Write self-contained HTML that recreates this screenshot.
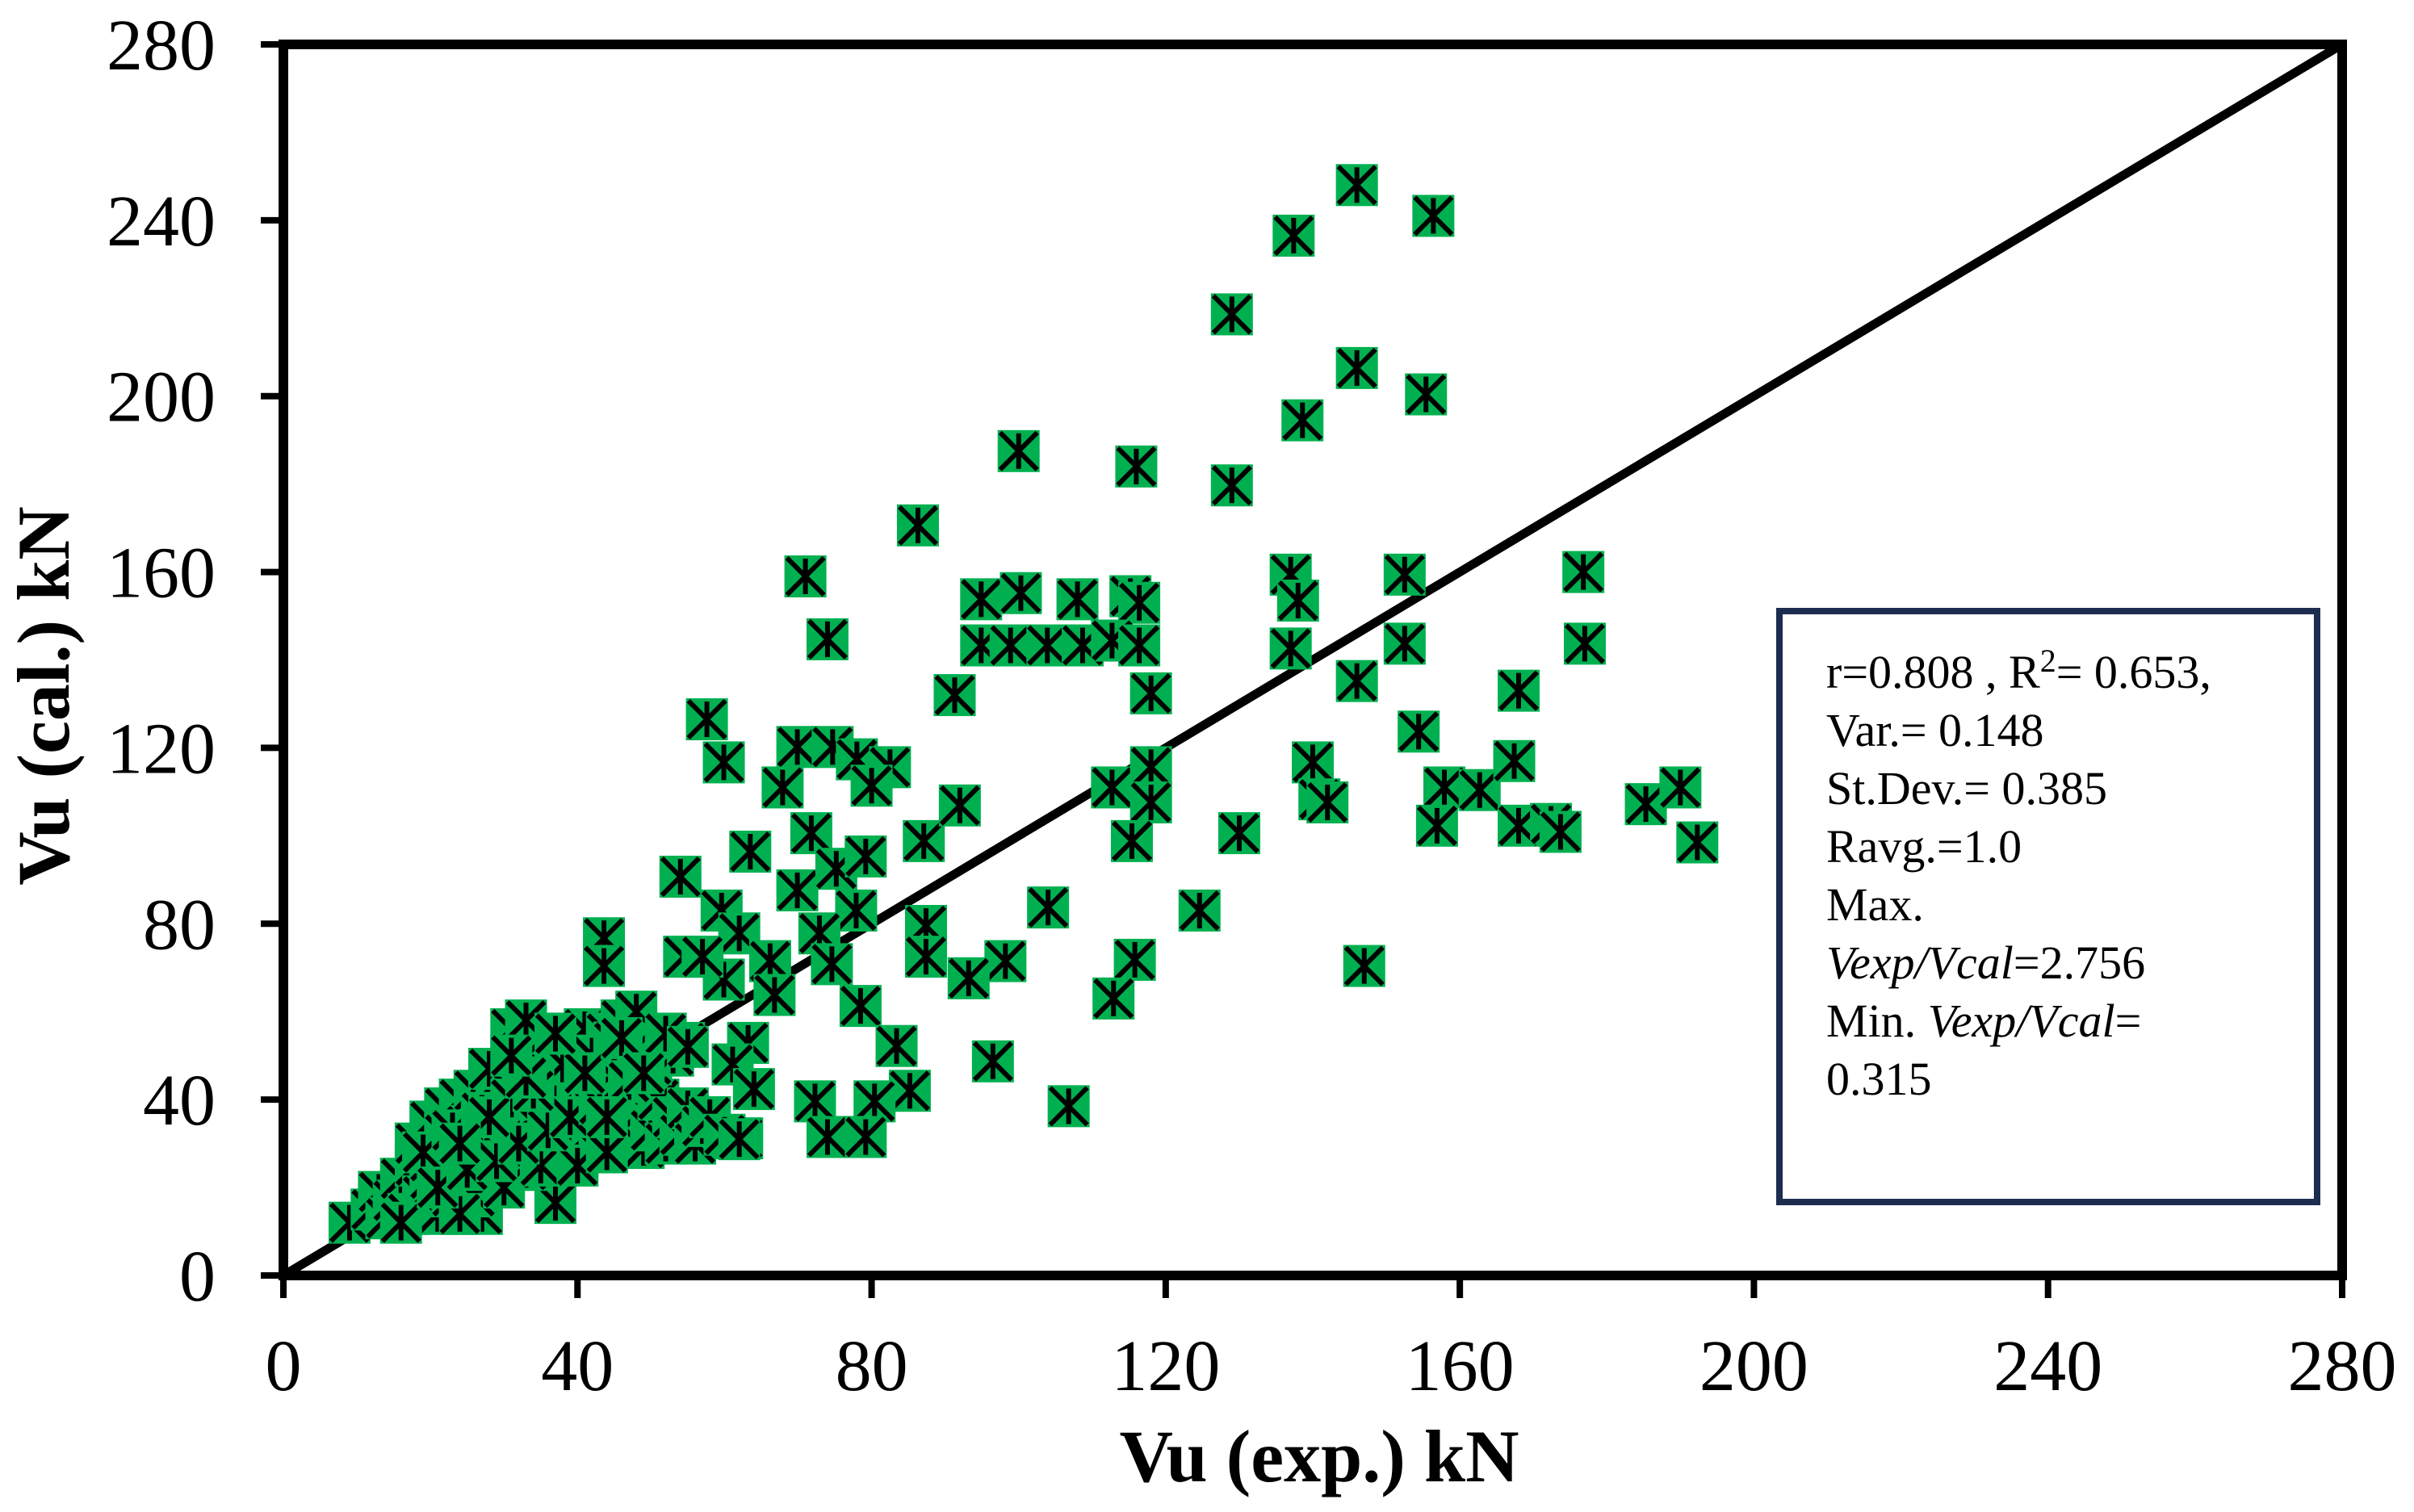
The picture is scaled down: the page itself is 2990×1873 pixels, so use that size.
<!DOCTYPE html>
<html><head><meta charset="utf-8"><style>
html,body{margin:0;padding:0;background:#fff}
svg{display:block}
text{font-family:"Liberation Serif",serif;fill:#000}
</style></head><body>
<svg id="chart" width="2990" height="1873" viewBox="0 0 2990 1873" xmlns="http://www.w3.org/2000/svg">
<line x1="351" y1="1580" x2="2901" y2="55" stroke="#000" stroke-width="11"/>
<g id="marks"></g>
<rect x="351" y="55" width="2550" height="1525" fill="none" stroke="#000" stroke-width="12"/>
<g id="yticks"></g>
<g id="xticks"></g>
<text x="1634" y="1835" font-size="92" font-weight="bold" text-anchor="middle">Vu (exp.) kN</text>
<text transform="translate(85,862) rotate(-90)" font-size="92" font-weight="bold" text-anchor="middle">Vu (cal.) kN</text>
<g>
<rect x="2204" y="757" width="666" height="732" fill="#fff" stroke="#1c2d50" stroke-width="8"/>
<text x="2262" y="852" font-size="58">r=0.808 , R<tspan dy="-20" font-size="40">2</tspan><tspan dy="20">= 0.653,</tspan></text>
<text x="2262" y="924" font-size="58">Var.= 0.148</text>
<text x="2262" y="996" font-size="58">St.Dev.= 0.385</text>
<text x="2262" y="1068" font-size="58">Ravg.=1.0</text>
<text x="2262" y="1140" font-size="58">Max.</text>
<text x="2262" y="1212" font-size="58"><tspan font-style="italic">Vexp/Vcal</tspan>=2.756</text>
<text x="2262" y="1284" font-size="58">Min. <tspan font-style="italic">Vexp/Vcal</tspan>=</text>
<text x="2262" y="1356" font-size="58">0.315</text>
</g>
</svg>
<script>
const xTicks=[0,40,80,120,160,200,240,280];
const yTicks=[0,40,80,120,160,200,240,280];
const vExp=[146,156.4,137.4,129,146,155.4,138.6,100,116,86.3,129,71,176.8,137,152.5,74,177,137,152.5,94.9,100.3,108,115.2,116.4,94.9,98.9,103.9,108.7,112.7,116.4,138,91.3,118,146,168,154.4,57.6,59.9,69.9,74.7,78,82.5,80,67.9,112.7,118,118,140,140.9,142,157.9,162.7,167.4,168,172.4,173.7,185.3,190,192.3,156.9,115.4,87.1,92,130,71.8,63.5,69.9,75.2,79.2,77.9,72.9,54,59.6,62,59.9,74.6,66.2,66.8,104,124.6,87.4,87.4,98.2,93.2,115.8,112.9,147,43.6,43.6,54.5,57,78.5,83.4,54.5,63.2,61.1,64,96.5,85.2,72.3,80.4,106.8,74,79.2,57.6,62.4,37,
9,12,13,14,15,16,17,18,18,19,20,20,21,21,22,22,23,23,24,24,25,25,26,26,27,27,28,28,29,29,30,30,31,31,32,32,33,33,34,34,35,35,36,36,37,37,38,38,39,39,40,40,41,41,42,42,43,43,44,44,45,45,46,46,47,47,48,48,49,49,50,50,51,52,53,54,55,56,57,58,60,62,26,24,20,16,30,35,28,33,37,40,44,46,48,
19,23,27,31,34,38,42,45,21,25,29,32,36,39,43,47,50,53,28,34,41,46,52,24,33,37,44,49,55,31];
const vCal=[248,241,236.5,218.6,206.4,200.4,194.5,187.5,184,170.6,179.7,159,160,159.4,159.4,144.7,143.7,142.6,143.7,153.8,155.2,153.8,154.5,153,143.3,143.3,143.3,143.3,144.4,143.3,153.5,132,132.4,135.2,133,123.7,126.5,116.7,120.2,120.2,117.4,115.6,111.4,111,111,115.6,107.6,116.7,108.3,107.6,111,110.4,117,102.3,102.7,100.9,107.2,111,98.5,102.3,98.8,98.8,106.9,100.6,100.6,96.4,87.6,92.5,95.3,83,77.8,90.7,83,77.8,67.3,70.8,71.5,63.8,83.7,83,79.5,72.5,71.5,67.6,71.8,63,70.4,76.7,70.4,72.5,72.5,61.3,52.2,52.9,52.9,48,42.4,48.7,42,39.6,39.6,38.5,31.5,31.5,31.2,31.2,16.5,
12,15,19,13,17,22,14,25,30,18,35,22,28,14,38,32,25,18,40,30,34,22,27,42,36,14,30,24,38,44,33,27,56,40,47,30,36,24,42,51,38,30,55,45,33,40,48,27,36,52,42,30,56,46,38,33,50,28,44,55,36,40,58,31,47,42,34,52,38,29,44,33,40,30,36,32,38,30,34,36,32,31,18,14,26,12,20,25,47,58,50,25,28,48,60,
28,33,37,40,45,48,50,53,20,24,26,30,33,36,39,44,48,50,36,42,46,54,55,30,45,55,36,46,52,50];
const X0=351,X1=2901,Y0=1580,Y1=55;
function sx(v){return X0+v*(X1-X0)/280;}
function sy(v){return Y0-v*(Y0-Y1)/280;}
const NS="http://www.w3.org/2000/svg";
function mk(tag,attrs){const e=document.createElementNS(NS,tag);for(const k in attrs)e.setAttribute(k,attrs[k]);return e;}
const yg=document.getElementById('yticks');
yTicks.forEach(t=>{
  const l=mk('line',{x1:X0-28,x2:X0,y1:sy(t),y2:sy(t),stroke:'#000','stroke-width':8});
  
  
  yg.appendChild(l);
  const tx=mk('text',{x:X0-84,y:sy(t)+31,'font-size':90,'text-anchor':'end'});
  
  
  tx.textContent=t;yg.appendChild(tx);
});
const xg=document.getElementById('xticks');
xTicks.forEach(t=>{
  const l=mk('line',{x1:sx(t),x2:sx(t),y1:Y0,y2:Y0+28,stroke:'#000','stroke-width':8});
  
  
  xg.appendChild(l);
  const tx=mk('text',{x:sx(t),y:1722,'font-size':90,'text-anchor':'middle'});
  
  
  tx.textContent=t;xg.appendChild(tx);
});
const mg=document.getElementById('marks');
const h=26;
for(let i=0;i<vExp.length;i++){
  const cx=sx(vExp[i]),cy=sy(vCal[i]);
  const g=mk('g',{});
  
  
  g.appendChild(mk('rect',{x:cx-h,y:cy-h,width:2*h,height:2*h,fill:'#00b050'}));
  g.appendChild(mk('path',{d:`M${cx-h+3},${cy-h+3}L${cx+h-3},${cy+h-3}M${cx+h-3},${cy-h+3}L${cx-h+3},${cy+h-3}M${cx},${cy-h+4}L${cx},${cy+h-4}`,stroke:'#000','stroke-width':6,fill:'none'}));
  mg.appendChild(g);
}
</script>
</body></html>
